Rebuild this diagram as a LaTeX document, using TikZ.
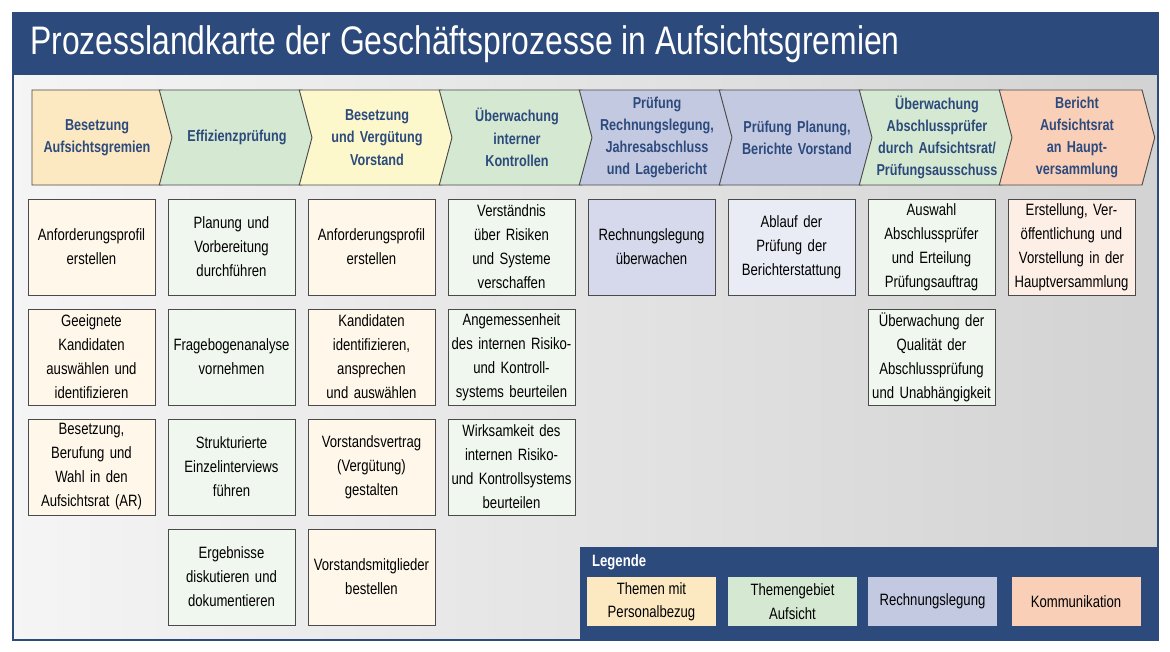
\documentclass[tikz,border=0pt]{standalone}
\usepackage{fontspec}
\setmainfont{Liberation Sans}[FakeStretch=0.8]
\usetikzlibrary{shapes.symbols}
\definecolor{navy}{HTML}{2D4A7C}
\definecolor{persA}{HTML}{FCE9C2}
\definecolor{persB}{HTML}{FDF8CC}
\definecolor{aufs}{HTML}{D5E9D2}
\definecolor{rech}{HTML}{C4C9E2}
\definecolor{komm}{HTML}{F9CFB8}
\definecolor{rim}{HTML}{4A4A4A}
\begin{document}
\begin{tikzpicture}[x=0.03cm,y=-0.03cm,
    chev/.style={signal, signal to=east, signal from=west, signal pointer angle=150, draw=rim, line width=0.8pt,
      minimum width=4.14cm, minimum height=2.85cm, inner sep=0pt, align=center, text width=3.9cm,
      font=\fontsize{13.5}{19}\selectfont\bfseries, text=navy},
    first/.style={chev, signal from=nowhere},
    task/.style={draw=rim, line width=0.8pt, minimum width=3.81cm, minimum height=2.88cm, inner sep=0pt,
      align=center, text width=3.7cm, font=\fontsize{14}{20.5}\selectfont},
    legbox/.style={minimum width=3.87cm, minimum height=1.47cm, inner sep=0pt, align=center,
      font=\fontsize{14}{20}\selectfont}
  ]
  \useasboundingbox (0,0) rectangle (1170,652);
  \fill[white] (0,0) rectangle (1170,652);
  % frame and title
  \shade[left color=gray!8, right color=gray!35] (13,75) rectangle (1158,640);
  \draw[navy, line width=2pt] (13,13) rectangle (1158,640);
  \fill[navy] (13,13) rectangle (1158,75);
  \node[anchor=west, text=white, font=\fontsize{34}{40}\selectfont] (title) at (26,44)
    {Prozesslandkarte der Geschäftsprozesse in Aufsichtsgremien};

  % process chevrons
  \node[first, fill=persA] (c1) at (97,137.5) {Besetzung\\Aufsichtsgremien};
  \node[chev, fill=aufs] (c2) at (237,137.5) {Effizienzprüfung};
  \node[chev, fill=persB] (c3) at (377,137.5) {Besetzung\\und Vergütung\\Vorstand};
  \node[chev, fill=aufs] (c4) at (517,137.5) {Überwachung\\interner\\Kontrollen};
  \node[chev, fill=rech] (c5) at (657,137.5) {Prüfung\\Rechnungslegung,\\Jahresabschluss\\und Lagebericht};
  \node[chev, fill=rech] (c6) at (797,137.5) {Prüfung Planung,\\Berichte Vorstand};
  \node[chev, fill=aufs] (c7) at (937,137.5) {Überwachung\\Abschlussprüfer\\durch Aufsichtsrat/\\Prüfungsausschuss};
  \node[chev, fill=komm] (c8) at (1077,137.5) {Bericht\\Aufsichtsrat\\an Haupt-\\versammlung};

  % tasks
  \node[task, fill=persA!35] (a1) at (91.5,247) {Anforderungsprofil\\erstellen};
  \node[task, fill=persA!35] (a2) at (91.5,357) {Geeignete\\Kandidaten\\auswählen und\\identifizieren};
  \node[task, fill=persA!35] (a3) at (91.5,467) {Besetzung,\\Berufung und\\Wahl in den\\Aufsichtsrat (AR)};

  \node[task, fill=aufs!35] (b1) at (231.5,247) {Planung und\\Vorbereitung\\durchführen};
  \node[task, fill=aufs!35] (b2) at (231.5,357) {Fragebogenanalyse\\vornehmen};
  \node[task, fill=aufs!35] (b3) at (231.5,467) {Strukturierte\\Einzelinterviews\\führen};
  \node[task, fill=aufs!35] (b4) at (231.5,577) {Ergebnisse\\diskutieren und\\dokumentieren};

  \node[task, fill=persA!35] (d1) at (371.5,247) {Anforderungsprofil\\erstellen};
  \node[task, fill=persA!35] (d2) at (371.5,357) {Kandidaten\\identifizieren,\\ansprechen\\und auswählen};
  \node[task, fill=persA!35] (d3) at (371.5,467) {Vorstandsvertrag\\(Vergütung)\\gestalten};
  \node[task, fill=persA!35] (d4) at (371.5,577) {Vorstandsmitglieder\\bestellen};

  \node[task, fill=aufs!35] (e1) at (511.5,247) {Verständnis\\über Risiken\\und Systeme\\verschaffen};
  \node[task, fill=aufs!35] (e2) at (511.5,357) {Angemessenheit\\des internen Risiko-\\und Kontroll-\\systems beurteilen};
  \node[task, fill=aufs!35] (e3) at (511.5,467) {Wirksamkeit des\\internen Risiko-\\und Kontrollsystems\\beurteilen};

  \node[task, fill=rech!70] (f1) at (651.5,247) {Rechnungslegung\\überwachen};
  \node[task, fill=rech!35] (g1) at (791.5,247) {Ablauf der\\Prüfung der\\Berichterstattung};

  \node[task, fill=aufs!35] (h1) at (931.5,247) {Auswahl\\Abschlussprüfer\\und Erteilung\\Prüfungsauftrag};
  \node[task, fill=aufs!35] (h2) at (931.5,357) {Überwachung der\\Qualität der\\Abschlussprüfung\\und Unabhängigkeit};

  \node[task, fill=komm!35] (k1) at (1071.5,247) {Erstellung, Ver-\\öffentlichung und\\Vorstellung in der\\Hauptversammlung};

  % legend
  \fill[navy] (580,547) rectangle (1158,640);
  \node[anchor=west, text=white, font=\fontsize{14}{16}\selectfont\bfseries] (leg) at (588,562) {Legende};
  \node[legbox, fill=persA] (l1) at (651.5,601.5) {Themen mit\\Personalbezug};
  \node[legbox, fill=aufs] (l2) at (792.5,601.5) {Themengebiet\\Aufsicht};
  \node[legbox, fill=rech] (l3) at (932.5,601.5) {Rechnungslegung};
  \node[legbox, fill=komm] (l4) at (1076,601.5) {Kommunikation};
\end{tikzpicture}
\end{document}
